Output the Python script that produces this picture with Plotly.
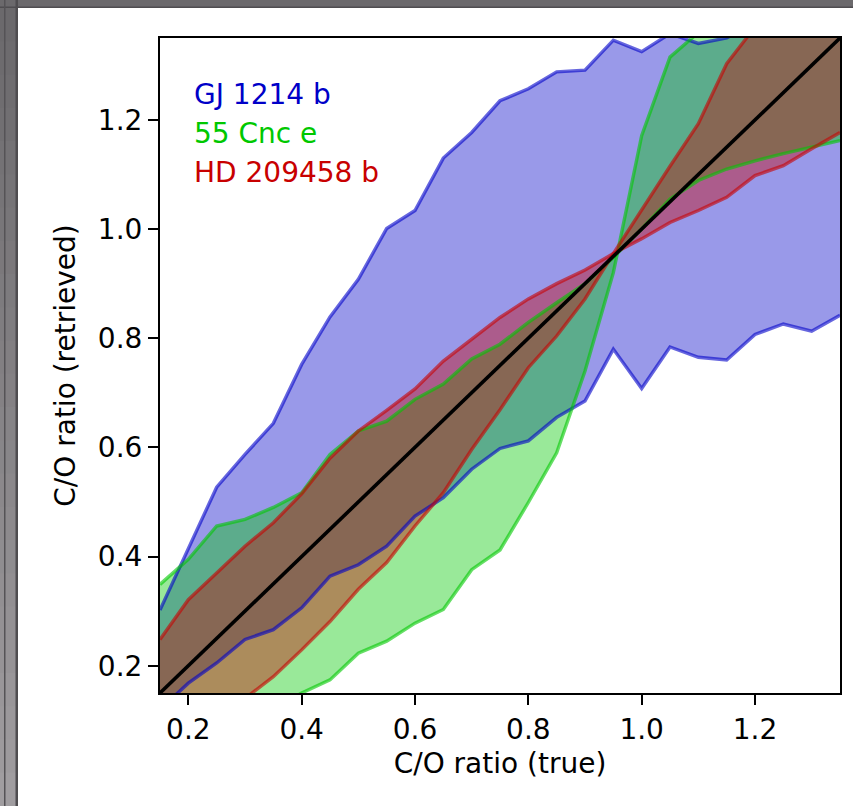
import plotly.graph_objects as go

# ---------------- data ----------------
co_true = [0.15, 0.20, 0.25, 0.30, 0.35, 0.40, 0.45, 0.50, 0.55, 0.60, 0.65, 0.70,
           0.75, 0.80, 0.85, 0.90, 0.95, 1.00, 1.05, 1.10, 1.15, 1.20, 1.25, 1.30, 1.35]

gj_lo = [0.120, 0.168, 0.205, 0.248, 0.266, 0.306, 0.364, 0.385, 0.419, 0.474, 0.508, 0.560,
         0.598, 0.612, 0.655, 0.685, 0.780, 0.708, 0.784, 0.765, 0.760, 0.807, 0.826, 0.813, 0.842]
gj_hi = [0.302, 0.415, 0.527, 0.587, 0.644, 0.752, 0.839, 0.908, 1.001, 1.034, 1.130, 1.177,
         1.235, 1.257, 1.288, 1.291, 1.346, 1.325, 1.358, 1.340, 1.350, 1.380, 1.400, 1.420, 1.440]

cnc_a = [0.030, 0.050, 0.070, 0.090, 0.120, 0.150, 0.174, 0.223, 0.245, 0.278, 0.303, 0.376,
         0.412, 0.499, 0.590, 0.740, 0.920, 1.171, 1.315, 1.360, 1.390, 1.420, 1.440, 1.460, 1.480]
cnc_b = [0.349, 0.395, 0.456, 0.468, 0.490, 0.517, 0.587, 0.630, 0.648, 0.688, 0.716, 0.762,
         0.789, 0.829, 0.865, 0.900, 0.948, 1.000, 1.055, 1.089, 1.110, 1.125, 1.138, 1.150, 1.162]

hd_a = [0.248, 0.321, 0.370, 0.419, 0.462, 0.515, 0.580, 0.630, 0.668, 0.707, 0.758, 0.798,
        0.838, 0.872, 0.900, 0.925, 0.955, 0.982, 1.012, 1.034, 1.058, 1.098, 1.116, 1.147, 1.177]
hd_b = [0.050, 0.080, 0.110, 0.140, 0.180, 0.229, 0.281, 0.340, 0.389, 0.456, 0.517, 0.596,
        0.669, 0.746, 0.804, 0.872, 0.955, 1.036, 1.115, 1.193, 1.303, 1.370, 1.420, 1.460, 1.500]

one_to_one = co_true

planets = ["GJ 1214 b", "55 Cnc e", "HD 209458 b"]
x_ticks = [0.2, 0.4, 0.6, 0.8, 1.0, 1.2]
y_ticks = [0.2, 0.4, 0.6, 0.8, 1.0, 1.2]

# ---------------- style ----------------
rgb = {"GJ 1214 b": (0, 0, 200), "55 Cnc e": (0, 200, 0), "HD 209458 b": (200, 0, 0)}
FONT = "DejaVu Sans"
FS = 28

fig = go.Figure()

bands = [("GJ 1214 b", gj_lo, gj_hi), ("55 Cnc e", cnc_a, cnc_b), ("HD 209458 b", hd_a, hd_b)]
# fills first
for name, lo, hi in bands:
    r, g, b = rgb[name]
    fill_col = f"rgba({r},{g},{b},0.4)"
    fig.add_trace(go.Scatter(x=co_true, y=lo, mode="lines", line=dict(width=0),
                             showlegend=False, hoverinfo="skip"))
    fig.add_trace(go.Scatter(x=co_true, y=hi, mode="lines", line=dict(width=0),
                             fill="tonexty", fillcolor=fill_col, showlegend=False, name=name))
# band edges on top
for name, lo, hi in bands:
    r, g, b = rgb[name]
    line_col = f"rgba({r},{g},{b},0.6)"
    for yy in (lo, hi):
        fig.add_trace(go.Scatter(x=co_true, y=yy, mode="lines", line=dict(color=line_col, width=3.4),
                                 showlegend=False, hoverinfo="skip"))

fig.add_trace(go.Scatter(x=co_true, y=one_to_one, mode="lines",
                         line=dict(color="black", width=3.6), showlegend=False))

# planet labels
label_y = [0.913, 0.854, 0.794]
for name, yy in zip(planets, label_y):
    r, g, b = rgb[name]
    fig.add_annotation(x=0.047, y=yy, xref="paper", yref="paper", text=name, showarrow=False,
                       xanchor="left", yanchor="middle",
                       font=dict(family=FONT, size=FS, color=f"rgb({r},{g},{b})"))

axis_common = dict(showline=True, linecolor="black", linewidth=2, mirror=True,
                   ticks="outside", ticklen=10, tickwidth=2, tickcolor="black",
                   showgrid=False, zeroline=False,
                   tickfont=dict(family=FONT, size=FS, color="black"))

fig.update_xaxes(range=[0.15, 1.35], tickvals=x_ticks, ticktext=[f"{v:.1f}" for v in x_ticks],
                 title=dict(text="C/O ratio (true)", font=dict(family=FONT, size=FS, color="black"),
                            standoff=9),
                 **axis_common)
fig.update_yaxes(range=[0.15, 1.35], tickvals=y_ticks, ticktext=[f"{v:.1f}" for v in y_ticks],
                 title=dict(text="C/O ratio (retrieved)", font=dict(family=FONT, size=FS, color="black"),
                            standoff=14),
                 **axis_common)

# window frame decoration (grey bars at top and left)
W, H = 853, 806
L, R, T, B = 160, 13, 38, 113
pw, ph = W - L - R, H - T - B
def px(xp):
    return (xp - L) / pw
def py(yp):
    return (H - B - yp) / ph

shapes = []
shapes.append(dict(type="rect", xref="paper", yref="paper", x0=px(0), x1=px(W), y0=py(8), y1=py(0),
                   fillcolor="#6b696c", line=dict(width=0)))
shapes.append(dict(type="rect", xref="paper", yref="paper", x0=px(0), x1=px(W), y0=py(8), y1=py(6.5),
                   fillcolor="#4f4d50", line=dict(width=0)))
nseg = 24
c0 = (0x6b, 0x69, 0x6c)
c1 = (0xa0, 0x9d, 0xa0)
for i in range(nseg):
    t = i / (nseg - 1)
    c = tuple(int(c0[k] + (c1[k] - c0[k]) * t) for k in range(3))
    y_top = 8 + (H - 8) * i / nseg
    y_bot = 8 + (H - 8) * (i + 1) / nseg
    shapes.append(dict(type="rect", xref="paper", yref="paper", x0=px(0), x1=px(18),
                       y0=py(y_bot + 1), y1=py(y_top),
                       fillcolor="rgb(%d,%d,%d)" % c, line=dict(width=0)))
shapes.append(dict(type="rect", xref="paper", yref="paper", x0=px(15.5), x1=px(18), y0=py(H), y1=py(0),
                   fillcolor="#4f4d50", line=dict(width=0)))
shapes.append(dict(type="rect", xref="paper", yref="paper", x0=px(4), x1=px(5.5), y0=py(H), y1=py(0),
                   fillcolor="#555356", line=dict(width=0)))

fig.update_layout(width=W, height=H, margin=dict(l=L, r=R, t=T, b=B),
                  paper_bgcolor="white", plot_bgcolor="white", shapes=shapes,
                  font=dict(family=FONT, size=FS, color="black"))

fig.write_html("out.html")
